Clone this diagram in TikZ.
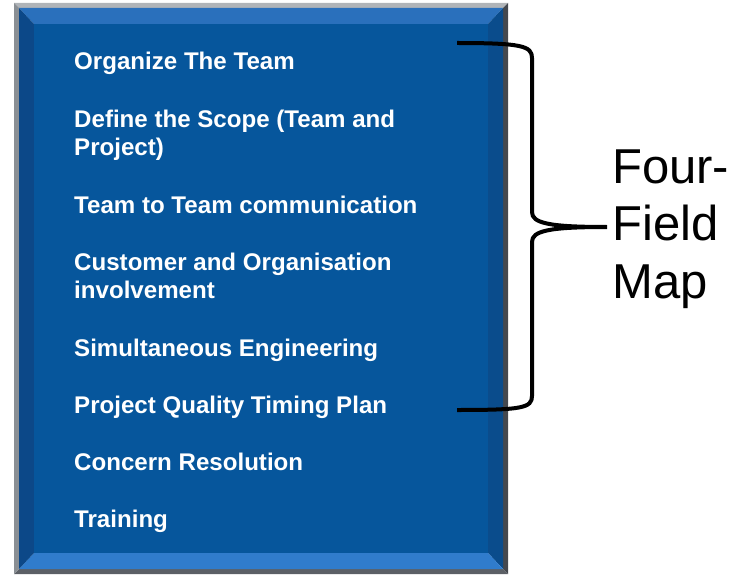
\documentclass[tikz,border=0pt]{standalone}
\usepackage{fontspec}
\setmainfont{Liberation Sans}
\usepackage{tikz}
\usetikzlibrary{calc}

\definecolor{boxface}{RGB}{6,86,156}
\definecolor{bevtop}{RGB}{42,112,188}
\definecolor{bevleft}{RGB}{12,72,136}
\definecolor{bevbot}{RGB}{48,124,204}
\definecolor{bevright}{RGB}{10,76,140}
\definecolor{frametop}{RGB}{176,180,184}
\definecolor{frameleft}{RGB}{138,143,148}
\definecolor{frameright}{RGB}{68,72,78}
\definecolor{framebot}{RGB}{92,96,102}

\tikzset{
	item/.style={anchor=base west, inner sep=0pt, align=left, text=white,
		font=\fontsize{24.1}{28.6}\selectfont\bfseries},
	maplabel/.style={anchor=west, inner sep=0pt, align=left,
		font=\fontsize{49}{57.5}\selectfont},
	brace/.style={line width=4pt, black}
}

\begin{document}
\begin{tikzpicture}[x=1pt, y=-1pt]
			\useasboundingbox (0,0) rectangle (736,575);
			\def \lh {28.6}

			\coordinate (o1) at (14,3);   \coordinate (o2) at (508,3);
			\coordinate (o3) at (508,574); \coordinate (o4) at (14,574);
			\coordinate (b1) at (19,8);   \coordinate (b2) at (503,8);
			\coordinate (b3) at (503,569); \coordinate (b4) at (19,569);
			\coordinate (i1) at (34,24);  \coordinate (i2) at (488,24);
			\coordinate (i3) at (488,553); \coordinate (i4) at (34,553);

			\fill[frametop] (o1) -- (o2) -- (b2) -- (b1) -- cycle;
			\fill[frameright] (o2) -- (o3) -- (b3) -- (b2) -- cycle;
			\fill[framebot] (o3) -- (o4) -- (b4) -- (b3) -- cycle;
			\fill[frameleft] (o4) -- (o1) -- (b1) -- (b4) -- cycle;
			\fill[bevtop] (b1) -- (b2) -- (i2) -- (i1) -- cycle;
			\fill[bevright] (b2) -- (b3) -- (i3) -- (i2) -- cycle;
			\fill[bevbot] (b3) -- (b4) -- (i4) -- (i3) -- cycle;
			\fill[bevleft] (b4) -- (b1) -- (i1) -- (i4) -- cycle;
			\fill[boxface] (i1) rectangle (i3);

			\foreach \k/\txt [count=\s] in {
				0/{Organize The Team},
				3/{Define the Scope (Team and\\Project)},
				5/{Team to Team communication},
				8/{Customer and Organisation\\involvement},
				10/{Simultaneous Engineering},
				12/{Project Quality Timing Plan},
				14/{Concern Resolution},
				16/{Training}} {
				\node[item] (t\s) at (74,{70+\lh*\k}) {\txt};
			}

			\coordinate (top) at (457,43);
			\coordinate (bot) at (457,410);
			\coordinate (tip) at (607,227);
			\node[maplabel] (map) at (612,229) {Four-\\Field\\Map};

			\draw[brace] (top) .. controls (522,43) and (532,46) .. (532,58)
				-- (532,212) .. controls (532,223) and (548,227) .. (tip)
				.. controls (548,227) and (532,231) .. (532,242)
				-- (532,396) .. controls (532,408) and (522,410) .. (bot);
		\end{tikzpicture}
\end{document}
